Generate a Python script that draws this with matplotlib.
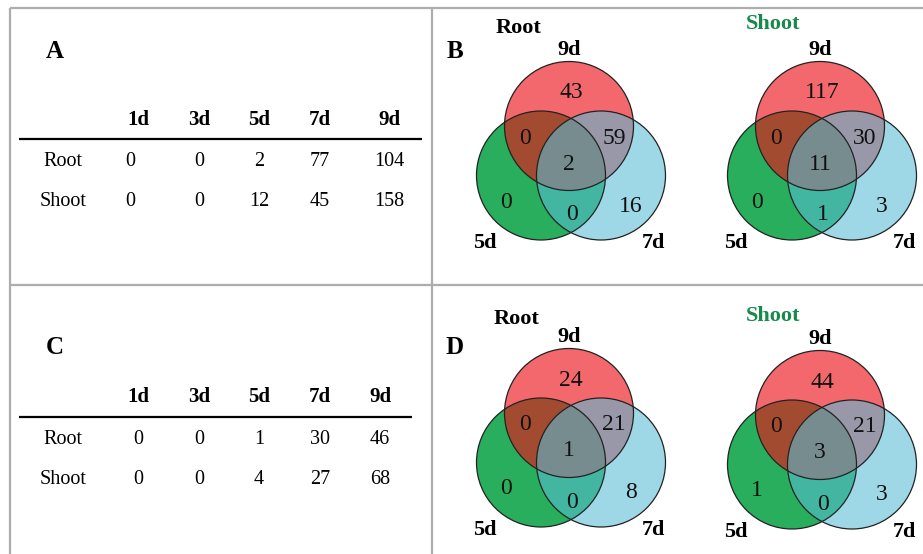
import matplotlib.pyplot as plt
from matplotlib.patches import Circle

plt.rcParams['font.family'] = ['Liberation Serif', 'DejaVu Serif']

# time points and DEG counts per tissue
days = ['1d', '3d', '5d', '7d', '9d']
tissues = ['Root', 'Shoot']
counts_A = [[0, 0, 2, 77, 104],
            [0, 0, 12, 45, 158]]
counts_C = [[0, 0, 1, 30, 46],
            [0, 0, 4, 27, 68]]

# venn region counts: 9d only, 5d&9d, 9d&7d, all three, 5d only, 5d&7d, 7d only
venn_root_B = [43, 0, 59, 2, 0, 0, 16]
venn_shoot_B = [117, 0, 30, 11, 0, 1, 3]
venn_root_D = [24, 0, 21, 1, 0, 0, 8]
venn_shoot_D = [44, 0, 21, 3, 1, 0, 3]
venn_sets = ['9d', '5d', '7d']

W, H = 923, 554
fig = plt.figure(figsize=(W / 100, H / 100), dpi=100)
ax = fig.add_axes([0, 0, 1, 1])
ax.set_xlim(0, W)
ax.set_ylim(H, 0)
ax.set_aspect('equal')
ax.axis('off')

# cell borders
grid_kw = dict(color='#adadad', lw=1.6, solid_capstyle='butt')
ax.plot([10, W], [8, 8], **grid_kw)
ax.plot([10, W], [285, 285], **grid_kw)
ax.plot([10, 10], [8, H], **grid_kw)
ax.plot([432, 432], [8, H], **grid_kw)


def draw_table(letter, letter_y, head_y, rule_y, row_ys, col_xs, first_col_x, rule_end, values):
    ax.text(55, letter_y, letter, fontsize=18, fontweight='bold', ha='center', va='center')
    for x, d in zip(col_xs, days):
        ax.text(x, head_y, d, fontsize=15, fontweight='bold', ha='center', va='center')
    ax.plot([19, rule_end], [rule_y, rule_y], color='black', lw=1.6, solid_capstyle='butt')
    for y, name, row in zip(row_ys, tissues, values):
        ax.text(63, y, name, fontsize=14.5, ha='center', va='center')
        for j, (x, v) in enumerate(zip(col_xs, row)):
            if j == 0:
                x = first_col_x
            ax.text(x, y, str(v), fontsize=14.5, ha='center', va='center')


draw_table('A', 52, 120, 139, [161, 201], [138, 199, 259, 320, 389], 130, 422, counts_A)
draw_table('C', 347, 397, 417, [440, 479], [138, 199, 259, 320, 380], 138, 412, counts_C)

# offsets of region numbers relative to the 9d circle centre
region_offsets = [(2, -33), (-44, 12), (45, 12), (0, 38), (-63, 76), (3, 89), (62, 80)]


def draw_venn(cx, cy, title, title_xy, title_color, values):
    r = 64.5
    red = (cx, cy)
    green = (cx - 28, cy + 49.5)
    blue = (cx + 32, cy + 49.5)
    ax.add_patch(Circle(green, r, facecolor='#28ae5c', edgecolor='none', zorder=1))
    ax.add_patch(Circle(red, r, facecolor=(235 / 255, 18 / 255, 24 / 255), alpha=0.636,
                        edgecolor='none', zorder=2))
    ax.add_patch(Circle(blue, r, facecolor=(88 / 255, 188 / 255, 212 / 255), alpha=0.58,
                        edgecolor='none', zorder=3))
    for c in (green, red, blue):
        ax.add_patch(Circle(c, r, facecolor='none', edgecolor='#222222', lw=0.9, zorder=4))
    for (dx, dy), v in zip(region_offsets, values):
        ax.text(cx + dx, cy + dy, str(v), fontsize=17, ha='center', va='center',
                color='#111111', zorder=5)
    ax.text(cx, cy - 76, venn_sets[0], fontsize=16, fontweight='bold', ha='center', va='center')
    ax.text(cx - 84, cy + 117, venn_sets[1], fontsize=16, fontweight='bold', ha='center', va='center')
    ax.text(cx + 84, cy + 117, venn_sets[2], fontsize=16, fontweight='bold', ha='center', va='center')
    ax.text(title_xy[0], title_xy[1], title, fontsize=16, fontweight='bold', color=title_color,
            ha='center', va='center')


ax.text(455, 52, 'B', fontsize=18, fontweight='bold', ha='center', va='center')
ax.text(455, 348, 'D', fontsize=18, fontweight='bold', ha='center', va='center')

draw_venn(569, 126, 'Root', (519, 28), 'black', venn_root_B)
draw_venn(820, 126, 'Shoot', (773, 24), '#178a4a', venn_shoot_B)
draw_venn(569, 413, 'Root', (517, 319), 'black', venn_root_D)
draw_venn(820, 415, 'Shoot', (773, 316), '#178a4a', venn_shoot_D)

fig.savefig('out.png', dpi=100, facecolor='white')
